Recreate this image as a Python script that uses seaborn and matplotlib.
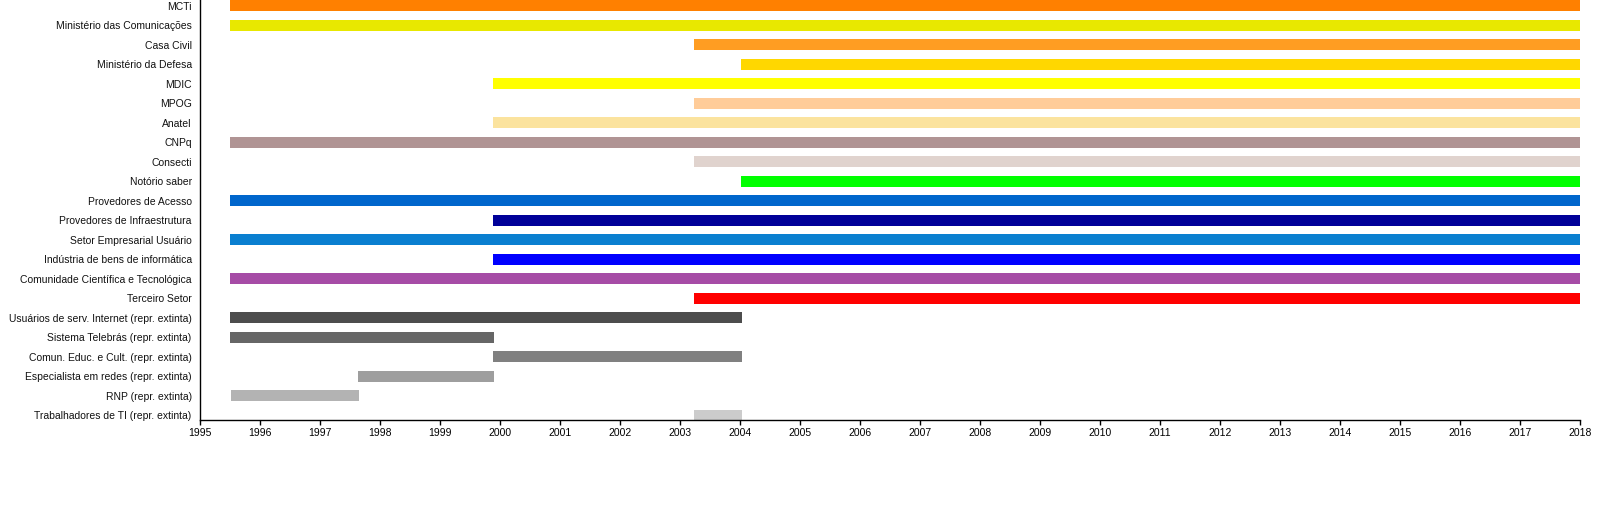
import numpy as np
import pandas as pd
import matplotlib
matplotlib.use("Agg")
import matplotlib.pyplot as plt
import seaborn as sns

# Representações no comitê, com ano de entrada e de saída (decimal)
labels = [
    "MCTi", "Ministério das Comunicações", "Casa Civil", "Ministério da Defesa",
    "MDIC", "MPOG", "Anatel", "CNPq", "Consecti", "Notório saber",
    "Provedores de Acesso", "Provedores de Infraestrutura",
    "Setor Empresarial Usuário", "Indústria de bens de informática",
    "Comunidade Científica e Tecnológica", "Terceiro Setor",
    "Usuários de serv. Internet (repr. extinta)",
    "Sistema Telebrás (repr. extinta)",
    "Comun. Educ. e Cult. (repr. extinta)",
    "Especialista em redes (repr. extinta)",
    "RNP (repr. extinta)",
    "Trabalhadores de TI (repr. extinta)",
]
start = [1995.5, 1995.5, 2003.23, 2004.02, 1999.88, 2003.23, 1999.88, 1995.5,
         2003.23, 2004.02, 1995.5, 1999.88, 1995.5, 1999.88, 1995.5, 2003.23,
         1995.5, 1995.5, 1999.88, 1997.63, 1995.52, 2003.23]
end = [2018, 2018, 2018, 2018, 2018, 2018, 2018, 2018, 2018, 2018, 2018, 2018,
       2018, 2018, 2018, 2018, 2004.03, 1999.9, 2004.03, 1999.9, 1997.65, 2004.03]
colors = ["#ff8000", "#e8e800", "#ff9d22", "#ffd700", "#ffff00", "#ffcc99",
          "#fbe39e", "#b09494", "#e0d3ce", "#00ff00", "#0066cc", "#000099",
          "#0a7fd0", "#0000ff", "#a64ca6", "#ff0000", "#4d4d4d", "#666666",
          "#808080", "#9e9e9e", "#b3b3b3", "#cccccc"]
years = list(range(1995, 2019))

df = pd.DataFrame({"label": labels, "start": start, "end": end})
df["dur"] = df["end"] - df["start"]

sns.set_style("ticks")
plt.rcParams["font.family"] = ["Liberation Sans", "DejaVu Sans"]

fig = plt.figure(figsize=(16, 5.2), dpi=100)
ax = fig.add_axes([0.125, 0.1923, 0.8625, 0.8077])

# seaborn desenha as barras; "left" passa direto para ax.barh
sns.barplot(data=df, x="dur", y="label", orient="h", errorbar=None,
            width=0.56, color="gray", saturation=1,
            left=df["start"].to_numpy(), linewidth=0, ax=ax)
for p, c in zip(ax.patches, colors):
    p.set_facecolor(c)
    p.set_edgecolor(c)

ax.set_xlim(1995, 2018)
ax.set_ylim(21.24, -0.3)
ax.set_xticks(years)
ax.set_xlabel("")
ax.set_ylabel("")
sns.despine(ax=ax)
for s in ["left", "bottom"]:
    ax.spines[s].set_linewidth(1.0)
    ax.spines[s].set_color("black")
ax.tick_params(axis="y", length=0, pad=6, labelsize=7.5, colors="#111111")
ax.tick_params(axis="x", length=3.5, width=1, pad=2, labelsize=7.5, colors="black")

fig.savefig("out.png", dpi=100)
